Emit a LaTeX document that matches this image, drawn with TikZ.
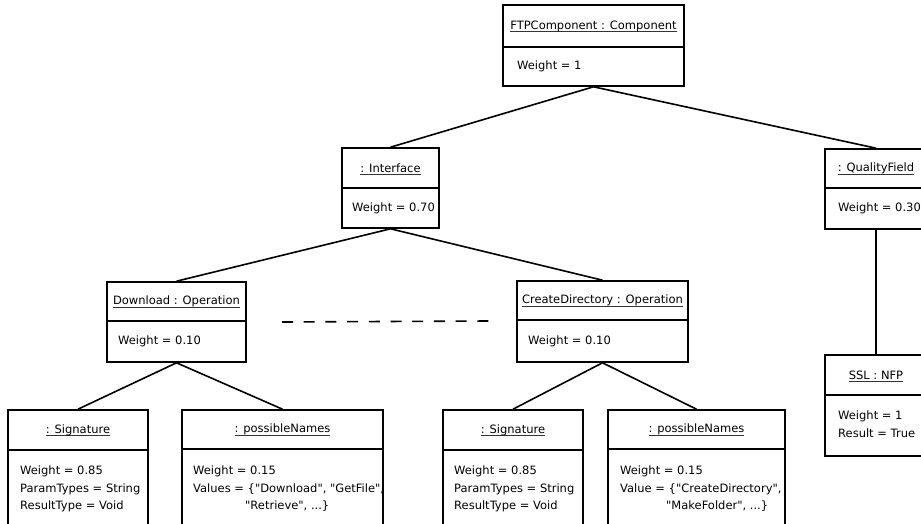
\documentclass[tikz,border=0pt]{standalone}
\usepackage{fontspec}
\setmainfont{DejaVu Sans}[Ligatures=TeXOff]
\newcommand\ulbl[1]{\setbox0=\hbox{#1}\rlap{\smash{\color{black!80}\rule[-3pt]{\wd0}{0.8pt}}}\box0}
\tikzset{
  objbox/.style={draw, line width=1.6pt, inner sep=0pt, fill=white},
  conn/.style={line width=1.6pt},
  ttl/.style={inner sep=0pt, font=\fontsize{11.5}{17}\selectfont},
  attr/.style={inner sep=0pt, align=left, font=\fontsize{11.5}{17.5}\selectfont},
}
% name, left, right, top, divider, bottom, title
\newcommand\umlobj[7]{%
  \node[objbox, minimum width={#3-#2}, minimum height={#6-#4}] (#1) at ({(#2+#3)/2},{(#4+#6)/2}) {};
  \draw[conn] (#2,#5) -- (#3,#5);
  \node[ttl] (#1-t) at ({(#2+#3)/2},{(#4+#5)/2}) {\ulbl{#7}};
}
\begin{document}
\begin{tikzpicture}[x=1pt,y=-1pt]
\clip (0,0) rectangle (921,524);
\fill[white] (0,0) rectangle (921,524);

\umlobj{ftp}{503}{684}{5}{47}{86}{FTPComponent : Component}
\umlobj{iface}{342}{439}{148}{188}{228}{: Interface}
\umlobj{qf}{825}{927}{149}{188}{229}{: QualityField}
\umlobj{dl}{107}{246}{282}{321}{362}{Download : Operation}
\umlobj{cd}{517}{688}{281}{320}{362}{CreateDirectory : Operation}
\umlobj{ssl}{825}{927}{355}{395}{456}{SSL : NFP}
\umlobj{sig1}{8}{148}{410}{450}{545}{: Signature}
\umlobj{pn1}{182}{383}{410}{449}{545}{: possibleNames}
\umlobj{sig2}{443}{583}{410}{450}{545}{: Signature}
\umlobj{pn2}{608}{785}{410}{449}{545}{: possibleNames}

\node[attr, anchor=west] (ftp-a) at (517,66.5) {Weight = 1};
\node[attr, anchor=west] (iface-a) at (352,208) {Weight = 0.70};
\node[attr, anchor=west] (qf-a) at (838,208.5) {Weight = 0.30};
\node[attr, anchor=west] (dl-a) at (118,341.5) {Weight = 0.10};
\node[attr, anchor=west] (cd-a) at (528,341) {Weight = 0.10};
\node[attr, anchor=west] (ssl-a) at (838,424) {Weight = 1\\Result = True};
\node[attr, anchor=north west] (sig1-a) at (20,466) {Weight = 0.85\\ParamTypes = String\\ResultType = Void};
\node[attr, anchor=north west] (pn1-a) at (193,466) {Weight = 0.15\\Values = \{"Download", "GetFile",\\\hspace*{52pt}"Retrieve", ...\}};
\node[attr, anchor=north west] (sig2-a) at (454,466) {Weight = 0.85\\ParamTypes = String\\ResultType = Void};
\node[attr, anchor=north west] (pn2-a) at (620,466) {Weight = 0.15\\Value = \{"CreateDirectory",\\\hspace*{46pt}"MakeFolder", ...\}};

\draw[conn] (ftp.south) -- (iface.north);
\draw[conn] (ftp.south) -- (qf.north);
\draw[conn] (iface.south) -- (dl.north);
\draw[conn] (iface.south) -- (cd.north);
\draw[conn] (qf.south) -- (ssl.north);
\draw[conn] (dl.south) -- (sig1.north);
\draw[conn] (dl.south) -- (pn1.north);
\draw[conn] (cd.south) -- (sig2.north);
\draw[conn] (cd.south) -- (pn2.north);

\coordinate (dots1) at (282,322);
\coordinate (dots2) at (489,321);
\draw[conn, dash pattern=on 11pt off 10.7pt] (dots1) -- (dots2);
\end{tikzpicture}
\end{document}
